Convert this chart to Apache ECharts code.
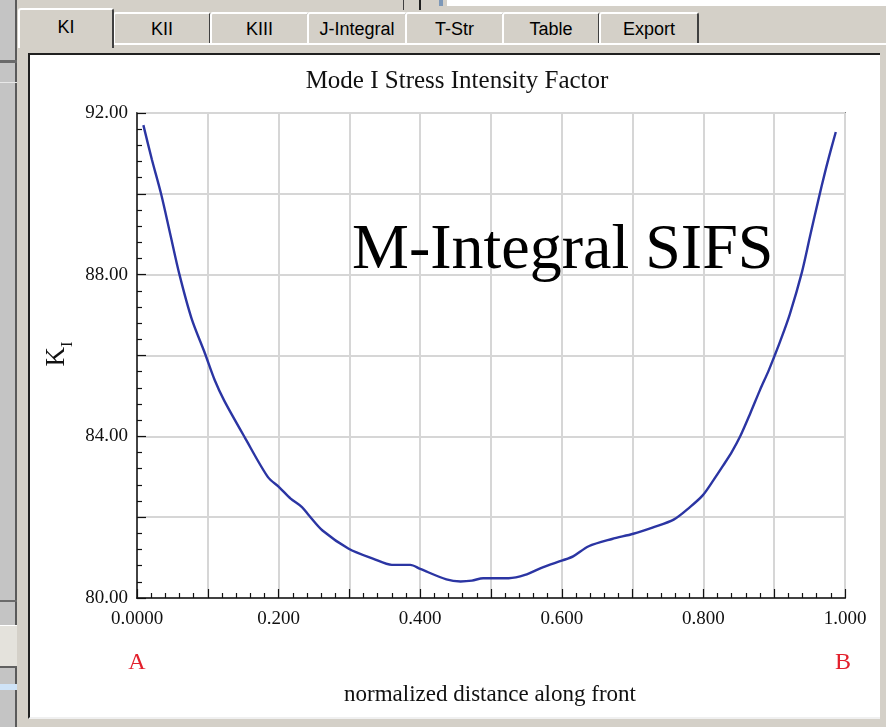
<!DOCTYPE html>
<html>
<head>
<meta charset="utf-8">
<script src="https://cdn.jsdelivr.net/npm/echarts@6/dist/echarts.min.js"></script>
<style>
  html,body{margin:0;padding:0;width:886px;height:727px;overflow:hidden;background:#d4d0c8;font-family:"Liberation Sans",Arial,sans-serif;}
  .abs{position:absolute;}
  .tab{position:absolute;top:12px;height:31px;background:#d4d0c8;border-top:2px solid #fff;border-left:2px solid #fff;border-right:2px solid #404040;box-sizing:border-box;text-align:center;font-size:18px;line-height:30px;color:#000;border-radius:3px 3px 0 0;}
  .tab.sel{top:8px;height:40px;z-index:2;line-height:34px;}
</style>
</head>
<body>
<!-- window chrome -->
<div class="abs" style="left:0;top:0;width:17px;height:727px;background:#c4c4c4;border-right:2px solid #5a5a5a;box-sizing:border-box;"></div>
<div class="abs" style="left:0;top:60px;width:17px;height:3px;background:#6a6a6a;"></div>
<div class="abs" style="left:0;top:82px;width:17px;height:1px;background:#e8e8e8;"></div>
<div class="abs" style="left:0;top:600px;width:17px;height:2px;background:#6a6a6a;"></div>
<div class="abs" style="left:0;top:625px;width:17px;height:40px;background:#e4e2dc;border-top:1px solid #fff;border-bottom:2px solid #606060;"></div>
<div class="abs" style="left:0;top:684px;width:17px;height:6px;background:#cfe3f7;"></div>
<div class="abs" style="left:447px;top:0;width:439px;height:6px;background:#ffffff;"></div>
<div class="abs" style="left:403px;top:0;width:1px;height:10px;background:#404040;"></div>
<div class="abs" style="left:419px;top:0;width:2px;height:10px;background:#202020;"></div>
<div class="abs" style="left:439px;top:0;width:4px;height:6px;background:#7d98b8;"></div>

<div class="tab sel" style="left:18px;width:96px;">KI</div>
<div class="tab" style="left:113px;width:98px;">KII</div>
<div class="tab" style="left:210px;width:99px;">KIII</div>
<div class="tab" style="left:307px;width:100px;">J-Integral</div>
<div class="tab" style="left:405px;width:99px;">T-Str</div>
<div class="tab" style="left:502px;width:98px;">Table</div>
<div class="tab" style="left:599px;width:100px;">Export</div>
<div class="abs" style="left:18px;top:43px;width:868px;height:2px;background:#ffffff;z-index:1;"></div>

<div class="abs" style="left:28px;top:53px;width:852px;height:666px;background:#ffffff;border-left:2px solid #202020;border-top:2px solid #202020;border-bottom:2px solid #f0f0f0;box-sizing:border-box;"></div>

<div id="chart" class="abs" style="left:0;top:0;width:886px;height:727px;z-index:5;"></div>
<script>
// normalized distance along the crack front
var positions = [0.009, 0.021, 0.034, 0.047, 0.060, 0.077, 0.096, 0.110, 0.123, 0.152,
                 0.185, 0.201, 0.217, 0.233, 0.243, 0.262, 0.299, 0.334, 0.360, 0.386,
                 0.400, 0.437, 0.457, 0.473, 0.489, 0.525, 0.548, 0.573, 0.601, 0.616,
                 0.638, 0.671, 0.701, 0.729, 0.758, 0.781, 0.799, 0.814, 0.828, 0.840,
                 0.852, 0.866, 0.880, 0.892, 0.900, 0.908, 0.922, 0.939, 0.951, 0.962,
                 0.972, 0.981, 0.987];
// Mode I stress intensity factor K_I
var kI = [91.70, 90.85, 90.00, 89.00, 88.00, 86.92, 86.05, 85.38, 84.89, 83.98,
          82.99, 82.74, 82.46, 82.25, 82.04, 81.67, 81.22, 80.97, 80.82, 80.82,
          80.72, 80.46, 80.41, 80.43, 80.49, 80.49, 80.57, 80.76, 80.93, 81.03,
          81.28, 81.46, 81.59, 81.75, 81.94, 82.25, 82.54, 82.91, 83.28, 83.61,
          84.00, 84.56, 85.15, 85.62, 85.97, 86.33, 87.02, 88.05, 88.98, 89.82,
          90.55, 91.15, 91.53];
var xTickLabels = ['0.0000', '0.200', '0.400', '0.600', '0.800', '1.000'];
var yTickLabels = ['80.00', '84.00', '88.00', '92.00'];
var endLabels = ['A', 'B'];
var titleText = 'Mode I Stress Intensity Factor';
var overlayText = 'M-Integral SIFS';
var xName = 'normalized distance along front';

var serif = '"Liberation Serif","Times New Roman",serif';
var data = positions.map(function (p, i) { return [p, kI[i]]; });

var chart = echarts.init(document.getElementById('chart'), null, {renderer: 'canvas'});
chart.setOption({
  backgroundColor: 'transparent',
  animation: false,
  grid: {left: 137, top: 113, width: 708, height: 485, show: true, borderColor: '#222', borderWidth: 1.5, backgroundColor: 'transparent'},
  xAxis: {
    type: 'value', min: 0, max: 1, interval: 0.1,
    axisLine: {show: true, lineStyle: {color: '#111', width: 1.5}},
    axisTick: {show: true, inside: true, length: 9, lineStyle: {color: '#111', width: 1.2}},
    minorTick: {show: true, splitNumber: 5, length: 5, lineStyle: {color: '#111', width: 1.2}},
    splitLine: {show: true, lineStyle: {color: '#d6d6d6', width: 2}},
    axisLabel: {
      margin: 12, fontFamily: serif, fontSize: 19, color: '#111',
      formatter: function (v) {
        var k = Math.round(v * 10);
        if (k % 2 !== 0) return '';
        return xTickLabels[k / 2];
      }
    }
  },
  yAxis: {
    type: 'value', min: 80, max: 92, interval: 2,
    axisLine: {show: true, lineStyle: {color: '#111', width: 1.5}},
    axisTick: {show: true, inside: true, length: 9, lineStyle: {color: '#111', width: 1.2}},
    minorTick: {show: true, splitNumber: 5, length: 5, lineStyle: {color: '#111', width: 1.2}},
    splitLine: {show: true, lineStyle: {color: '#d6d6d6', width: 2}},
    axisLabel: {
      margin: 9, fontFamily: serif, fontSize: 19, color: '#111',
      formatter: function (v) {
        var r = Math.round(v);
        if ((r - 80) % 4 !== 0) return '';
        return yTickLabels[(r - 80) / 4];
      }
    }
  },
  series: [{
    type: 'line', data: data, showSymbol: false, smooth: 0.3,
    lineStyle: {color: '#2b35a3', width: 2.4}
  }],
  graphic: [
    {type: 'text', z: 100, x: 457, y: 81, style: {text: titleText, font: '25px ' + serif, fill: '#111', textAlign: 'center', textVerticalAlign: 'middle'}},
    {type: 'text', z: 100, x: 352, y: 251, style: {text: overlayText, font: '64px ' + serif, fill: '#000', textAlign: 'left', textVerticalAlign: 'middle'}},
    {type: 'text', z: 100, x: 137, y: 663, style: {text: endLabels[0], font: '24px ' + serif, fill: '#e3202c', textAlign: 'center', textVerticalAlign: 'middle'}},
    {type: 'text', z: 100, x: 843, y: 663, style: {text: endLabels[1], font: '24px ' + serif, fill: '#e3202c', textAlign: 'center', textVerticalAlign: 'middle'}},
    {type: 'text', z: 100, x: 490, y: 695, style: {text: xName, font: '23px ' + serif, fill: '#111', textAlign: 'center', textVerticalAlign: 'middle'}},
    {type: 'text', z: 100, x: 57, y: 354, rotation: Math.PI / 2,
     style: {text: '{k|K}{i|I}', textAlign: 'center', textVerticalAlign: 'middle',
             rich: {k: {fontFamily: serif, fontSize: 27, lineHeight: 30, fill: '#111'},
                    i: {fontFamily: serif, fontSize: 16, lineHeight: 38, verticalAlign: 'bottom', fill: '#111'}}}}
  ]
});
</script>
</body>
</html>
